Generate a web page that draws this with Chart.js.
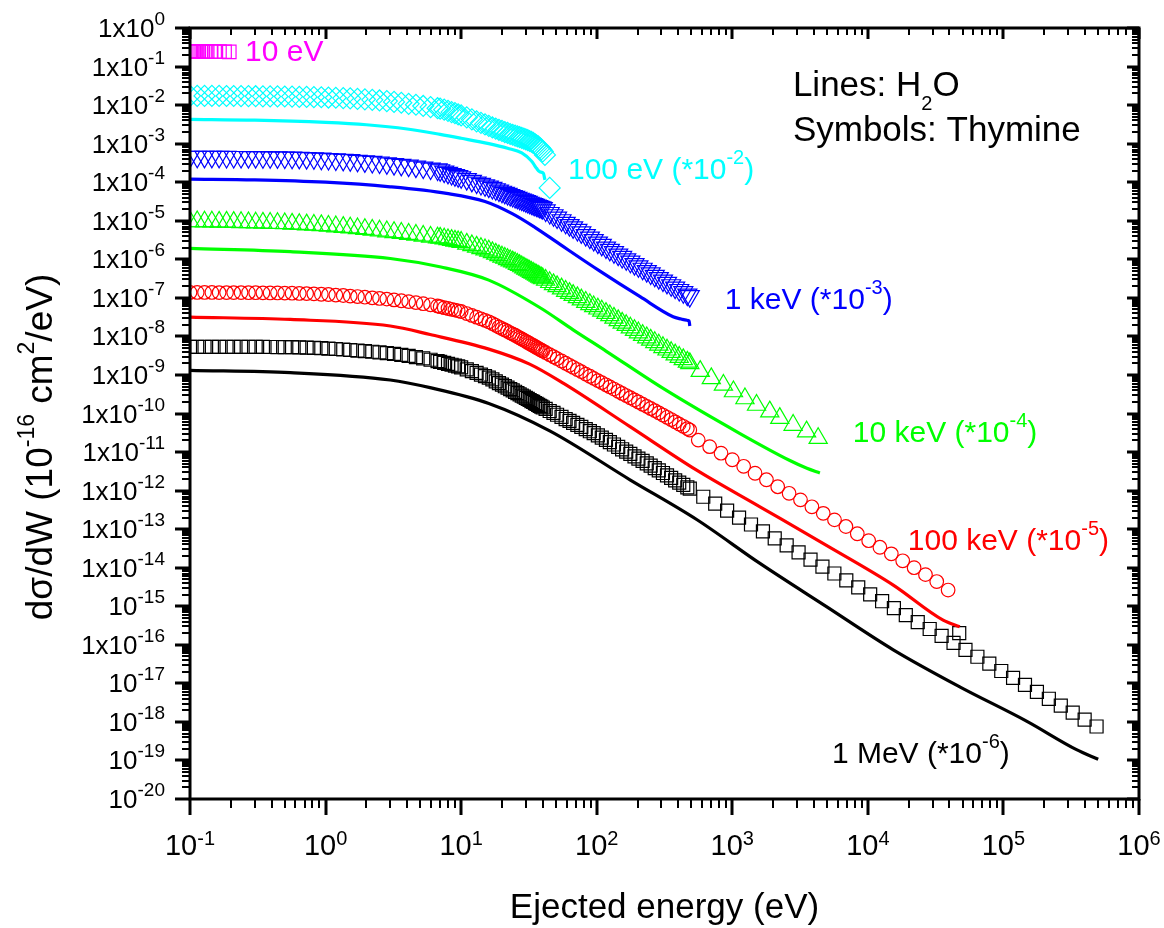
<!DOCTYPE html>
<html>
<head>
<meta charset="utf-8">
<script src="https://cdn.jsdelivr.net/npm/chart.js@4.4.1/dist/chart.umd.min.js"></script>
<style>
  html, body { margin: 0; padding: 0; background: #fff; }
  canvas { display: block; }
</style>
</head>
<body>
<canvas id="dcsChart" width="1164" height="928"></canvas>
<script>
// Energy grids (eV) shared by the thymine symbol series

const eLow = [0.1, 0.113, 0.128, 0.145, 0.164, 0.186, 0.21, 0.238, 0.27, 0.305, 0.345, 0.39, 0.442, 0.5, 0.566,
  0.64, 0.725, 0.82, 0.93, 1.05, 1.19, 1.35, 1.52, 1.72, 1.95, 2.21, 2.5, 2.83, 3.2, 3.62, 4.1, 4.64, 5.25, 5.95, 6.7];

const eDense = [7, 7.5, 8, 8.5, 9, 9.5, 10, 11, 12, 13, 14, 15, 16, 17, 18, 19, 20, 21, 22, 23, 24, 25, 26, 27, 28,
  29, 30, 31, 32, 33, 34, 35, 36, 37, 38, 39, 40];

const eMid = [42, 45, 48, 51, 55, 59, 63, 67, 72, 77, 83, 89, 95, 102, 109, 117, 125, 134, 144, 154, 165, 177, 190,
  203, 218, 234, 250, 268, 287, 308, 330, 354, 379, 406, 435, 466, 486];

// Thymine, 10 eV
const mag10eVE = [0.1, 0.102, 0.104, 0.106, 0.108, 0.11, 0.113, 0.116, 0.12, 0.124, 0.128, 0.134, 0.142, 0.152, 0.165, 0.18, 0.195];
const mag10eV = [0.248, 0.248, 0.247, 0.247, 0.247, 0.246, 0.246, 0.246, 0.245, 0.245, 0.245, 0.244, 0.244, 0.243, 0.243, 0.242, 0.241];

// Thymine, 100 eV (*1e-2)
const cyanLow = [1.74e-2, 1.74e-2, 1.73e-2, 1.73e-2, 1.73e-2, 1.72e-2, 1.72e-2, 1.71e-2, 1.71e-2, 1.70e-2, 1.69e-2,
  1.68e-2, 1.68e-2, 1.67e-2, 1.66e-2, 1.64e-2, 1.63e-2, 1.61e-2, 1.60e-2, 1.57e-2, 1.55e-2, 1.52e-2, 1.49e-2, 1.45e-2,
  1.41e-2, 1.37e-2, 1.32e-2, 1.27e-2, 1.21e-2, 1.15e-2, 1.08e-2, 1.02e-2, 9.5e-3, 8.9e-3, 8.3e-3];
const cyanDense = [8.1e-3, 7.6e-3, 7.1e-3, 6.6e-3, 6.2e-3, 5.75e-3, 5.4e-3, 4.8e-3, 4.27e-3, 3.8e-3, 3.47e-3, 3.16e-3,
  2.88e-3, 2.63e-3, 2.45e-3, 2.29e-3, 2.14e-3, 2.0e-3, 1.9e-3, 1.78e-3, 1.7e-3, 1.62e-3, 1.55e-3, 1.48e-3, 1.41e-3,
  1.35e-3, 1.29e-3, 1.23e-3, 1.17e-3, 1.12e-3, 1.05e-3, 9.8e-4, 9.1e-4, 8.5e-4, 7.8e-4, 7.1e-4, 6.3e-4];
const cyanTailE = [41.5, 45];
const cyanTail = [5.1e-4, 7.1e-5];

// Thymine, 1 keV (*1e-3)
const blueLow = [4.57e-4, 4.57e-4, 4.55e-4, 4.54e-4, 4.53e-4, 4.52e-4, 4.51e-4, 4.50e-4, 4.48e-4, 4.47e-4, 4.45e-4,
  4.43e-4, 4.40e-4, 4.37e-4, 4.32e-4, 4.27e-4, 4.22e-4, 4.17e-4, 4.07e-4, 3.98e-4, 3.89e-4, 3.80e-4, 3.72e-4, 3.59e-4,
  3.47e-4, 3.35e-4, 3.24e-4, 3.09e-4, 2.95e-4, 2.82e-4, 2.69e-4, 2.54e-4, 2.40e-4, 2.26e-4, 2.14e-4];
const blueDense = [2.04e-4, 1.88e-4, 1.75e-4, 1.63e-4, 1.52e-4, 1.43e-4, 1.34e-4, 1.20e-4, 1.08e-4, 9.8e-5, 9.0e-5,
  8.3e-5, 7.7e-5, 7.1e-5, 6.56e-5, 6.07e-5, 5.65e-5, 5.28e-5, 4.95e-5, 4.65e-5, 4.39e-5, 4.14e-5, 3.92e-5, 3.72e-5,
  3.53e-5, 3.37e-5, 3.21e-5, 3.07e-5, 2.93e-5, 2.80e-5, 2.69e-5, 2.58e-5, 2.48e-5, 2.39e-5, 2.29e-5, 2.21e-5, 2.13e-5];
const blueMid = [1.85e-5, 1.59e-5, 1.39e-5, 1.21e-5, 1.03e-5, 8.85e-6, 7.7e-6, 6.74e-6, 5.78e-6, 5.0e-6, 4.25e-6,
  3.66e-6, 3.16e-6, 2.71e-6, 2.36e-6, 2.02e-6, 1.76e-6, 1.53e-6, 1.32e-6, 1.15e-6, 1.0e-6, 8.67e-7, 7.5e-7, 6.58e-7,
  5.69e-7, 4.92e-7, 4.3e-7, 3.73e-7, 3.24e-7, 2.81e-7, 2.44e-7, 2.12e-7, 1.84e-7, 1.6e-7, 1.4e-7, 1.21e-7, 1.11e-7];

// Thymine, 10 keV (*1e-4)
const greenLow = [9.55e-6, 9.55e-6, 9.44e-6, 9.44e-6, 9.33e-6, 9.33e-6, 9.23e-6, 9.12e-6, 9.02e-6, 8.91e-6, 8.81e-6,
  8.71e-6, 8.61e-6, 8.51e-6, 8.32e-6, 8.13e-6, 7.94e-6, 7.76e-6, 7.59e-6, 7.33e-6, 7.08e-6, 6.84e-6, 6.61e-6, 6.31e-6,
  6.03e-6, 5.75e-6, 5.50e-6, 5.25e-6, 5.01e-6, 4.79e-6, 4.52e-6, 4.27e-6, 4.03e-6, 3.80e-6, 3.63e-6];
const greenDense = [3.59e-6, 3.42e-6, 3.27e-6, 3.14e-6, 3.01e-6, 2.90e-6, 2.80e-6, 2.52e-6, 2.29e-6, 2.10e-6, 1.93e-6,
  1.79e-6, 1.66e-6, 1.51e-6, 1.38e-6, 1.26e-6, 1.16e-6, 1.08e-6, 1.0e-6, 9.29e-7, 8.69e-7, 8.13e-7, 7.53e-7, 7.0e-7,
  6.5e-7, 6.07e-7, 5.66e-7, 5.31e-7, 4.98e-7, 4.67e-7, 4.42e-7, 4.16e-7, 3.94e-7, 3.72e-7, 3.52e-7, 3.35e-7, 3.18e-7];
const greenMid = [2.90e-7, 2.54e-7, 2.24e-7, 1.99e-7, 1.73e-7, 1.50e-7, 1.33e-7, 1.18e-7, 1.03e-7, 9.02e-8, 7.78e-8,
  6.81e-8, 5.98e-8, 5.22e-8, 4.61e-8, 4.02e-8, 3.49e-8, 3.02e-8, 2.60e-8, 2.24e-8, 1.95e-8, 1.68e-8, 1.45e-8, 1.26e-8,
  1.08e-8, 9.33e-9, 8.11e-9, 7.02e-9, 6.05e-9, 5.21e-9, 4.51e-9, 3.89e-9, 3.37e-9, 2.91e-9, 2.53e-9, 2.19e-9, 2.0e-9];
const greenTailE = [580, 700, 860, 1020, 1240, 1510, 1890, 2240, 2810, 3530, 4300];
const greenTail = [1.26e-9, 8.13e-10, 5.5e-10, 3.72e-10, 2.45e-10, 1.66e-10, 1.12e-10, 7.59e-11, 5.01e-11, 3.39e-11, 2.29e-11];

// Thymine, 100 keV (*1e-5)
const redLow = [1.38e-7, 1.38e-7, 1.38e-7, 1.38e-7, 1.37e-7, 1.37e-7, 1.37e-7, 1.37e-7, 1.36e-7, 1.36e-7, 1.35e-7,
  1.34e-7, 1.34e-7, 1.33e-7, 1.32e-7, 1.30e-7, 1.29e-7, 1.27e-7, 1.24e-7, 1.22e-7, 1.18e-7, 1.15e-7, 1.11e-7, 1.08e-7,
  1.04e-7, 1.00e-7, 9.66e-8, 9.27e-8, 8.85e-8, 8.41e-8, 7.96e-8, 7.5e-8, 7.05e-8, 6.61e-8, 6.17e-8];
const redDense = [5.89e-8, 5.57e-8, 5.30e-8, 5.05e-8, 4.82e-8, 4.61e-8, 4.43e-8, 3.92e-8, 3.49e-8, 3.15e-8, 2.86e-8,
  2.61e-8, 2.39e-8, 2.15e-8, 1.94e-8, 1.75e-8, 1.60e-8, 1.47e-8, 1.35e-8, 1.24e-8, 1.15e-8, 1.07e-8, 9.91e-9, 9.2e-9,
  8.55e-9, 7.98e-9, 7.45e-9, 6.98e-9, 6.55e-9, 6.14e-9, 5.81e-9, 5.47e-9, 5.18e-9, 4.9e-9, 4.63e-9, 4.41e-9, 4.19e-9];
const redMid = [3.82e-9, 3.36e-9, 2.97e-9, 2.64e-9, 2.30e-9, 2.01e-9, 1.78e-9, 1.58e-9, 1.38e-9, 1.22e-9, 1.05e-9,
  9.25e-10, 8.15e-10, 7.13e-10, 6.32e-10, 5.55e-10, 4.9e-10, 4.31e-10, 3.77e-10, 3.31e-10, 2.92e-10, 2.56e-10,
  2.24e-10, 1.99e-10, 1.74e-10, 1.53e-10, 1.35e-10, 1.19e-10, 1.04e-10, 9.12e-11, 7.98e-11, 6.97e-11, 6.08e-11,
  5.3e-11, 4.65e-11, 4.06e-11, 3.72e-11];
const redTailE = [561, 681, 826, 1000, 1213, 1472, 1786, 2163, 2624, 3184, 3864, 4688, 5675, 6887, 8356, 10140, 12270,
  14890, 18070, 21930, 26610, 32210, 39080];
const redTail = [2.04e-11, 1.38e-11, 9.33e-12, 6.31e-12, 4.27e-12, 2.82e-12, 1.91e-12, 1.26e-12, 8.51e-13, 5.75e-13,
  3.80e-13, 2.57e-13, 1.74e-13, 1.17e-13, 7.59e-14, 5.01e-14, 3.39e-14, 2.29e-14, 1.51e-14, 1.0e-14, 6.61e-15,
  4.37e-15, 2.63e-15];

// Thymine, 1 MeV (*1e-6)
const blackLow = [5.37e-9, 5.37e-9, 5.37e-9, 5.37e-9, 5.37e-9, 5.36e-9, 5.36e-9, 5.35e-9, 5.35e-9, 5.34e-9, 5.33e-9,
  5.31e-9, 5.30e-9, 5.27e-9, 5.25e-9, 5.19e-9, 5.13e-9, 5.05e-9, 4.95e-9, 4.84e-9, 4.71e-9, 4.57e-9, 4.44e-9, 4.30e-9,
  4.15e-9, 4.00e-9, 3.85e-9, 3.69e-9, 3.51e-9, 3.31e-9, 3.11e-9, 2.90e-9, 2.69e-9, 2.48e-9, 2.29e-9];
const blackDense = [2.19e-9, 2.06e-9, 1.94e-9, 1.84e-9, 1.75e-9, 1.66e-9, 1.58e-9, 1.40e-9, 1.25e-9, 1.13e-9, 1.02e-9,
  9.35e-10, 8.55e-10, 7.64e-10, 6.84e-10, 6.17e-10, 5.6e-10, 5.1e-10, 4.68e-10, 4.29e-10, 3.96e-10, 3.66e-10,
  3.39e-10, 3.15e-10, 2.92e-10, 2.73e-10, 2.55e-10, 2.39e-10, 2.24e-10, 2.10e-10, 1.99e-10, 1.87e-10, 1.77e-10,
  1.67e-10, 1.58e-10, 1.51e-10, 1.43e-10];
const blackMid = [1.32e-10, 1.16e-10, 1.04e-10, 9.29e-11, 8.17e-11, 7.19e-11, 6.41e-11, 5.74e-11, 5.06e-11, 4.5e-11,
  3.93e-11, 3.47e-11, 3.08e-11, 2.7e-11, 2.38e-11, 2.06e-11, 1.8e-11, 1.57e-11, 1.36e-11, 1.18e-11, 1.03e-11,
  8.93e-12, 7.74e-12, 6.79e-12, 5.89e-12, 5.1e-12, 4.44e-12, 3.84e-12, 3.33e-12, 2.86e-12, 2.48e-12, 2.14e-12,
  1.85e-12, 1.61e-12, 1.41e-12, 1.22e-12, 1.12e-12];
const blackTailE = [611, 748, 916, 1122, 1374, 1683, 2056, 2518, 3083, 3776, 4624, 5662, 6934, 8492, 10400, 12740,
  15560, 19050, 23330, 28580, 34990, 42850, 47200, 52480, 64270, 78700, 96380, 117800, 144200, 176600, 216300,
  264900, 324300, 397200, 486400];
const blackTail = [6.92e-13, 4.57e-13, 3.02e-13, 2.0e-13, 1.32e-13, 8.71e-14, 5.75e-14, 3.8e-14, 2.51e-14, 1.62e-14,
  1.07e-14, 7.08e-15, 4.68e-15, 3.09e-15, 2.04e-15, 1.35e-15, 8.91e-16, 5.89e-16, 3.89e-16, 2.57e-16, 1.70e-16,
  1.12e-16, 2.0e-16, 7.41e-17, 4.9e-17, 3.24e-17, 2.09e-17, 1.38e-17, 9.12e-18, 6.03e-18, 3.98e-18, 2.63e-18,
  1.74e-18, 1.15e-18, 7.59e-19];

// Water (lines)
const h2o100eVE = [0.1, 0.3, 1, 2, 4, 7, 10, 16, 22, 28, 33, 34, 36, 38, 40.4, 41.5];
const h2o100eV = [4.27e-3, 4.07e-3, 3.55e-3, 3.09e-3, 2.4e-3, 1.74e-3, 1.38e-3, 1.0e-3, 7.59e-4, 5.75e-4, 3.55e-4,
  3.09e-4, 2.29e-4, 1.86e-4, 1.70e-4, 1.15e-4];

const h2o1keVE = [0.1, 0.3, 1, 3, 7.8, 15, 24, 35, 54, 105, 209, 366, 420, 460, 480, 486];
const h2o1keV = [1.2e-4, 1.15e-4, 1.0e-4, 7.59e-5, 5.13e-5, 3.16e-5, 1.51e-5, 6.76e-6, 2.4e-6, 5.01e-7, 1.07e-7,
  3.24e-8, 2.82e-8, 2.63e-8, 2.51e-8, 1.86e-8];

const h2o10keVE = [0.1, 0.55, 3, 7.1, 16, 38, 67, 117, 309, 1140, 2660, 3550, 4430];
const h2o10keV = [1.91e-6, 1.58e-6, 1.05e-6, 6.31e-7, 2.88e-7, 5.62e-8, 1.48e-8, 4.17e-9, 4.47e-10,
  3.02e-11, 6.03e-12, 3.8e-12, 2.88e-12];

const h2o100keVE = [0.1, 0.55, 3, 5.9, 16, 32, 57, 176, 546, 1600, 4950, 15400, 35900, 47600];
const h2o100keV = [3.16e-8, 2.75e-8, 1.86e-8, 1.12e-8, 4.68e-9, 1.91e-9, 6.03e-10, 4.57e-11, 3.39e-12, 3.8e-13,
  3.8e-14, 3.55e-15, 4.37e-16, 2.95e-16];

const h2o1MeVE = [0.1, 0.55, 3, 5.9, 16, 45, 176, 546, 1600, 4950, 15400, 47600, 148000, 346000, 500000];
const h2o1MeV = [1.32e-9, 1.15e-9, 7.41e-10, 4.68e-10, 1.82e-10, 3.55e-11, 1.91e-12, 1.78e-13, 1.29e-14,
  9.77e-16, 7.41e-17, 8.13e-18, 1.05e-18, 1.91e-19, 1.07e-19];

// Axis decades
const xDecades = [-1, 0, 1, 2, 3, 4, 5, 6];
const yDecades = [0, -1, -2, -3, -4, -5, -6, -7, -8, -9, -10, -11, -12, -13, -14, -15, -16, -17, -18, -19, -20];

// Helpers

const FONT = '"Liberation Sans", Arial, sans-serif';

function pairs(xs, ys) {
  return xs.map((x, i) => ({ x: x, y: ys[i] }));
}

function richText(ctx, segs, x, y, align) {
  let total = 0;
  segs.forEach(s => {
    ctx.font = s[1] + 'px ' + FONT;
    s.w = ctx.measureText(s[0]).width;
    total += s.w;
  });
  let cx = align === 'center' ? x - total / 2 : (align === 'right' ? x - total : x);
  segs.forEach(s => {
    ctx.font = s[1] + 'px ' + FONT;
    ctx.fillText(s[0], cx, y - (s[2] || 0));
    cx += s.w;
  });
}

function symbols(label, xs, ys, color, style, radius, rotation) {
  return {
    label: label,
    data: pairs(xs, ys),
    showLine: false,
    pointStyle: style,
    pointRadius: radius,
    pointRotation: rotation || 0,
    pointBorderWidth: 1.2,
    pointBorderColor: color,
    pointBackgroundColor: 'rgba(0,0,0,0)',
    clip: 0,
  };
}

function waterLine(label, xs, ys, color) {
  return {
    label: label,
    data: pairs(xs, ys),
    showLine: true,
    borderColor: color,
    borderWidth: 3.2,
    pointRadius: 0,
    cubicInterpolationMode: 'monotone',
    clip: 0,
  };
}

// Text placed in data coordinates: [x, y (vertical centre), colour, segments]
const notes = [
  [0.255, 0.27, '#FF00FF', [['10 eV', 30, 0]]],
  [61.4, 2.34e-4, '#00FFFF', [['100 eV (*10', 30, 0], ['-2', 20, 15], [')', 30, 0]]],
  [881, 1e-7, '#0000FF', [['1 keV (*10', 30, 0], ['-3', 20, 15], [')', 30, 0]]],
  [7740, 3.5e-11, '#00FF00', [['10 keV (*10', 30, 0], ['-4', 20, 15], [')', 30, 0]]],
  [19700, 5.5e-14, '#FF0000', [['100 keV (*10', 30, 0], ['-5', 20, 15], [')', 30, 0]]],
  [5430, 1.66e-19, '#000000', [['1 MeV (*10', 30, 0], ['-6', 20, 15], [')', 30, 0]]],
  [2800, 3.74e-2, '#000000', [['Lines: H', 35, 0], ['2', 20, -14], ['O', 35, 0]]],
  [2800, 2.55e-3, '#000000', [['Symbols: Thymine', 35, 0]]],
];

// Origin style frame, ticks and labels

const originAxes = {
  id: 'originAxes',
  afterDraw(chart) {
    const ctx = chart.ctx;
    const a = chart.chartArea;
    const xs = chart.scales.x;
    const ys = chart.scales.y;

    ctx.save();
    ctx.strokeStyle = '#000';
    ctx.fillStyle = '#000';
    ctx.textBaseline = 'alphabetic';

    [false, true].forEach(major => {
      ctx.lineWidth = major ? 3 : 2;
      ctx.beginPath();
      xDecades.forEach(n => {
        for (let m = 1; m <= 9; m++) {
          if (n === 6 && m > 1) break;
          if ((m === 1) !== major) continue;
          const px = Math.round(xs.getPixelForValue(m * Math.pow(10, n)));
          ctx.moveTo(px, a.bottom);
          ctx.lineTo(px, a.bottom + (major ? 16 : 9));
          ctx.moveTo(px, a.top);
          ctx.lineTo(px, a.top + (major ? 11 : 7));
        }
      });
      yDecades.forEach(n => {
        for (let m = 1; m <= 9; m++) {
          if (n === 0 && m > 1) break;
          if ((m === 1) !== major) continue;
          const py = Math.round(ys.getPixelForValue(m * Math.pow(10, n)));
          ctx.moveTo(a.left, py);
          ctx.lineTo(a.left - (major ? 15 : 8), py);
          ctx.moveTo(a.right, py);
          ctx.lineTo(a.right - (major ? 12 : 7), py);
        }
      });
      ctx.stroke();
    });

    ctx.lineWidth = 3;
    ctx.strokeRect(a.left, a.top, a.right - a.left, a.bottom - a.top);

    // tick labels
    xDecades.forEach(n => {
      const px = xs.getPixelForValue(Math.pow(10, n));
      richText(ctx, [['10', 29, 0], [String(n), 20, 10]], px, a.bottom + 56, 'center');
    });

    yDecades.forEach(n => {
      const py = ys.getPixelForValue(Math.pow(10, n));
      const base = (n === -15 || n <= -17) ? '10' : '1x10';
      richText(ctx, [[base, 26, 0], [String(n), 19, 12]], a.left - 25, py + 9, 'right');
    });

    // axis titles
    richText(ctx, [['Ejected energy (eV)', 35, 0]], (a.left + a.right) / 2, 918, 'center');

    ctx.save();
    ctx.translate(52, 447);
    ctx.rotate(-Math.PI / 2);
    richText(ctx, [['d\u03c3/dW (10', 37, 0], ['-16', 23, 18], [' cm', 37, 0], ['2', 23, 18], ['/eV)', 37, 0]], 0, 0, 'center');
    ctx.restore();

    // curve labels
    notes.forEach(n => {
      ctx.fillStyle = n[2];
      const px = xs.getPixelForValue(n[0]);
      const py = ys.getPixelForValue(n[1]);
      richText(ctx, n[3], px, py + 0.36 * n[3][0][1], 'left');
    });

    ctx.restore();
  }
};

// Chart config

const thyE = eLow.concat(eDense, eMid);

const datasets = [
  waterLine('100 eV H2O', h2o100eVE, h2o100eV, '#00FFFF'),
  waterLine('1 keV H2O', h2o1keVE, h2o1keV, '#0000FF'),
  waterLine('10 keV H2O', h2o10keVE, h2o10keV, '#00FF00'),
  waterLine('100 keV H2O', h2o100keVE, h2o100keV, '#FF0000'),
  waterLine('1 MeV H2O', h2o1MeVE, h2o1MeV, '#000000'),
  symbols('10 eV Thymine', mag10eVE, mag10eV, '#FF00FF', 'rect', 9.5),
  symbols('100 eV Thymine', eLow.concat(eDense, cyanTailE), cyanLow.concat(cyanDense, cyanTail), '#00FFFF', 'rectRot', 10.5),
  symbols('1 keV Thymine', thyE, blueLow.concat(blueDense, blueMid), '#0000FF', 'triangle', 11, 180),
  symbols('10 keV Thymine', thyE.concat(greenTailE), greenLow.concat(greenDense, greenMid, greenTail), '#00FF00', 'triangle', 10.5),
  symbols('100 keV Thymine', thyE.concat(redTailE), redLow.concat(redDense, redMid, redTail), '#FF0000', 'circle', 6.8),
  symbols('1 MeV Thymine', thyE.concat(blackTailE), blackLow.concat(blackDense, blackMid, blackTail), '#000000', 'rect', 9.2),
];

const dcsChart = new Chart(document.getElementById('dcsChart'), {
  type: 'scatter',
  data: { datasets: datasets },
  options: {
    responsive: false,
    devicePixelRatio: 1,
    animation: false,
    events: [],
    layout: { padding: { left: 190, right: 25, top: 28, bottom: 129 } },
    plugins: {
      legend: { display: false },
      tooltip: { enabled: false },
    },
    scales: {
      x: { type: 'logarithmic', min: 0.1, max: 1e6, display: false },
      y: { type: 'logarithmic', min: 1e-20, max: 1, display: false },
    },
  },
  plugins: [originAxes],
});
</script>
</body>
</html>
